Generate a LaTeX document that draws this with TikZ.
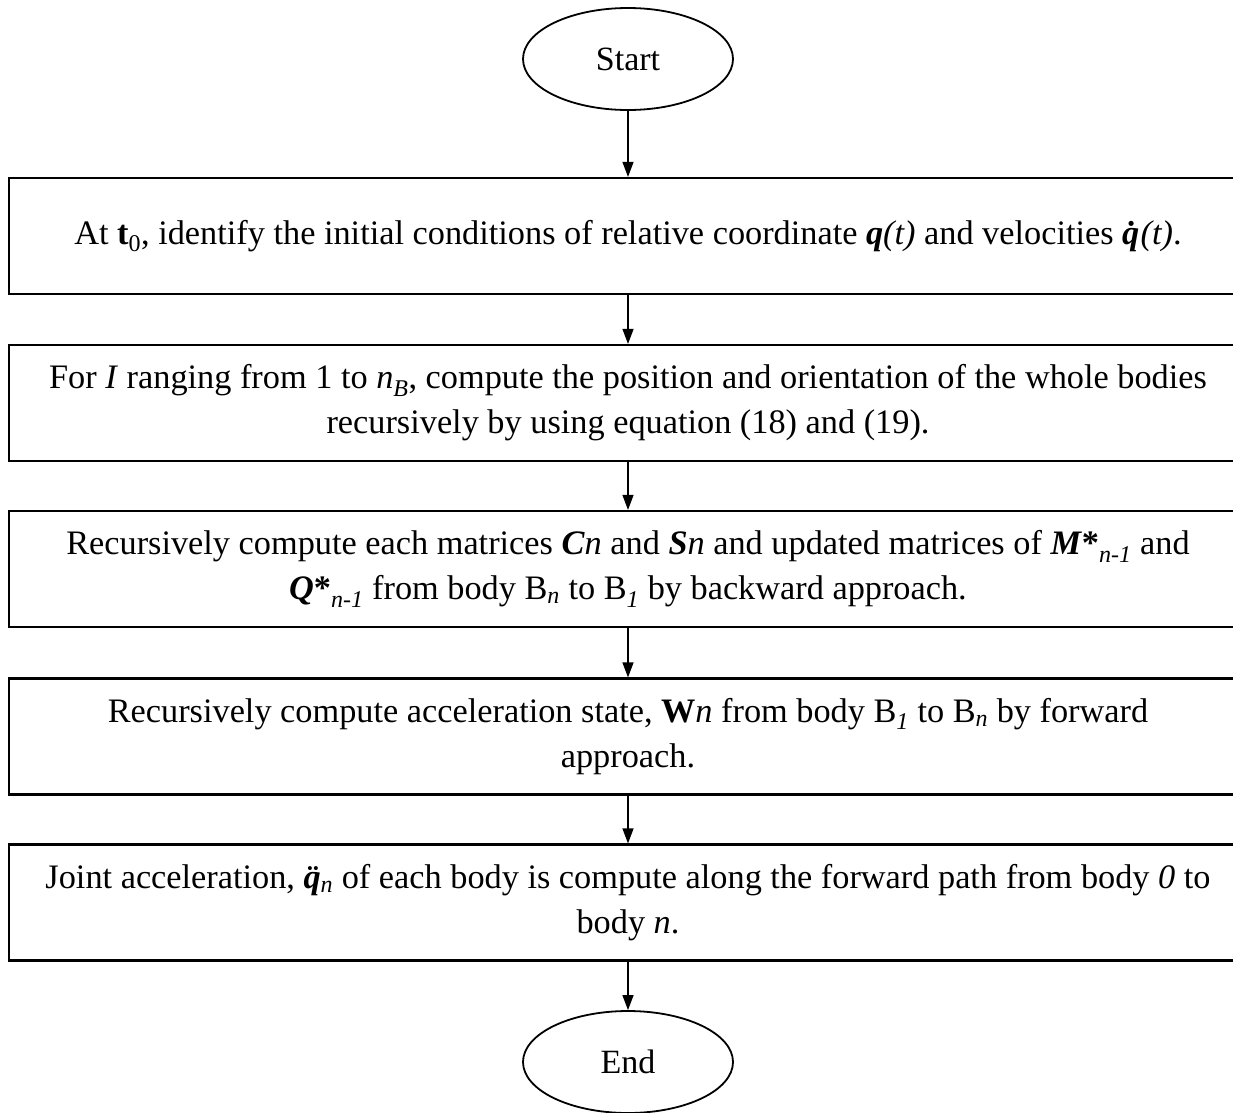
\documentclass[tikz,border=0pt]{standalone}
\usepackage{fontspec}
\setmainfont{Liberation Serif}
\usetikzlibrary{shapes.geometric,arrows.meta}
\tikzset{
  stepbox/.style={draw=black, line width=2.2pt, rectangle, minimum width=1238pt, minimum height=116pt, inner sep=0pt, align=center, font=\fontsize{34.3}{45}\selectfont},
  term/.style={draw=black, line width=1.8pt, ellipse, minimum width=210pt, minimum height=102pt, inner sep=0pt, font=\fontsize{34}{36}\selectfont},
  arr/.style={line width=1.3pt, -{Triangle[length=15pt,width=11pt]}}
}
\begin{document}
\begin{tikzpicture}[x=1pt,y=1pt]
\useasboundingbox (0,0) rectangle (1233,-1112);
\clip (0,0) rectangle (1233,-1112);
\node[term] (s) at (628,-59) {Start};
\node[stepbox] (b1) at (628,-236) {At \textbf{t}\textsubscript{0}, identify the initial conditions of relative coordinate \textbf{\textit{q}}\textit{(t)} and velocities \textbf{\textit{\.q}}\kern-0.12em\textit{(t)}.};
\node[stepbox] (b2) at (628,-403) {For \textit{I} ranging from 1 to \textit{n}\textsubscript{\textit{B}}, compute the position and orientation of the whole bodies\\ recursively by using equation (18) and (19).};
\node[stepbox] (b3) at (628,-569) {Recursively compute each matrices \textbf{\textit{C}}\textit{n} and \textbf{\textit{S}}\textit{n} and updated matrices of \textbf{\textit{M}*}\textsubscript{\textit{n-1}} and\\ \textbf{\textit{Q}*}\textsubscript{\textit{n-1}} from body B\textsubscript{\textit{n}} to B\textsubscript{\textit{1}} by backward approach.};
\node[stepbox] (b4) at (628,-736.5) {Recursively compute acceleration state, \textbf{W}\textit{n} from body B\textsubscript{\textit{1}} to B\textsubscript{\textit{n}} by forward\\ approach.};
\node[stepbox] (b5) at (628,-902.5) {Joint acceleration, {\bfseries\itshape\"q}\textsubscript{\itshape n} of each body is compute along the forward path from body \textit{0} to\\ body \textit{n}.};
\node[term] (e) at (628,-1062) {End};
\draw[arr] (s) -- (b1);
\draw[arr] (b1) -- (b2);
\draw[arr] (b2) -- (b3);
\draw[arr] (b3) -- (b4);
\draw[arr] (b4) -- (b5);
\draw[arr] (b5) -- (e);
\end{tikzpicture}
\end{document}
